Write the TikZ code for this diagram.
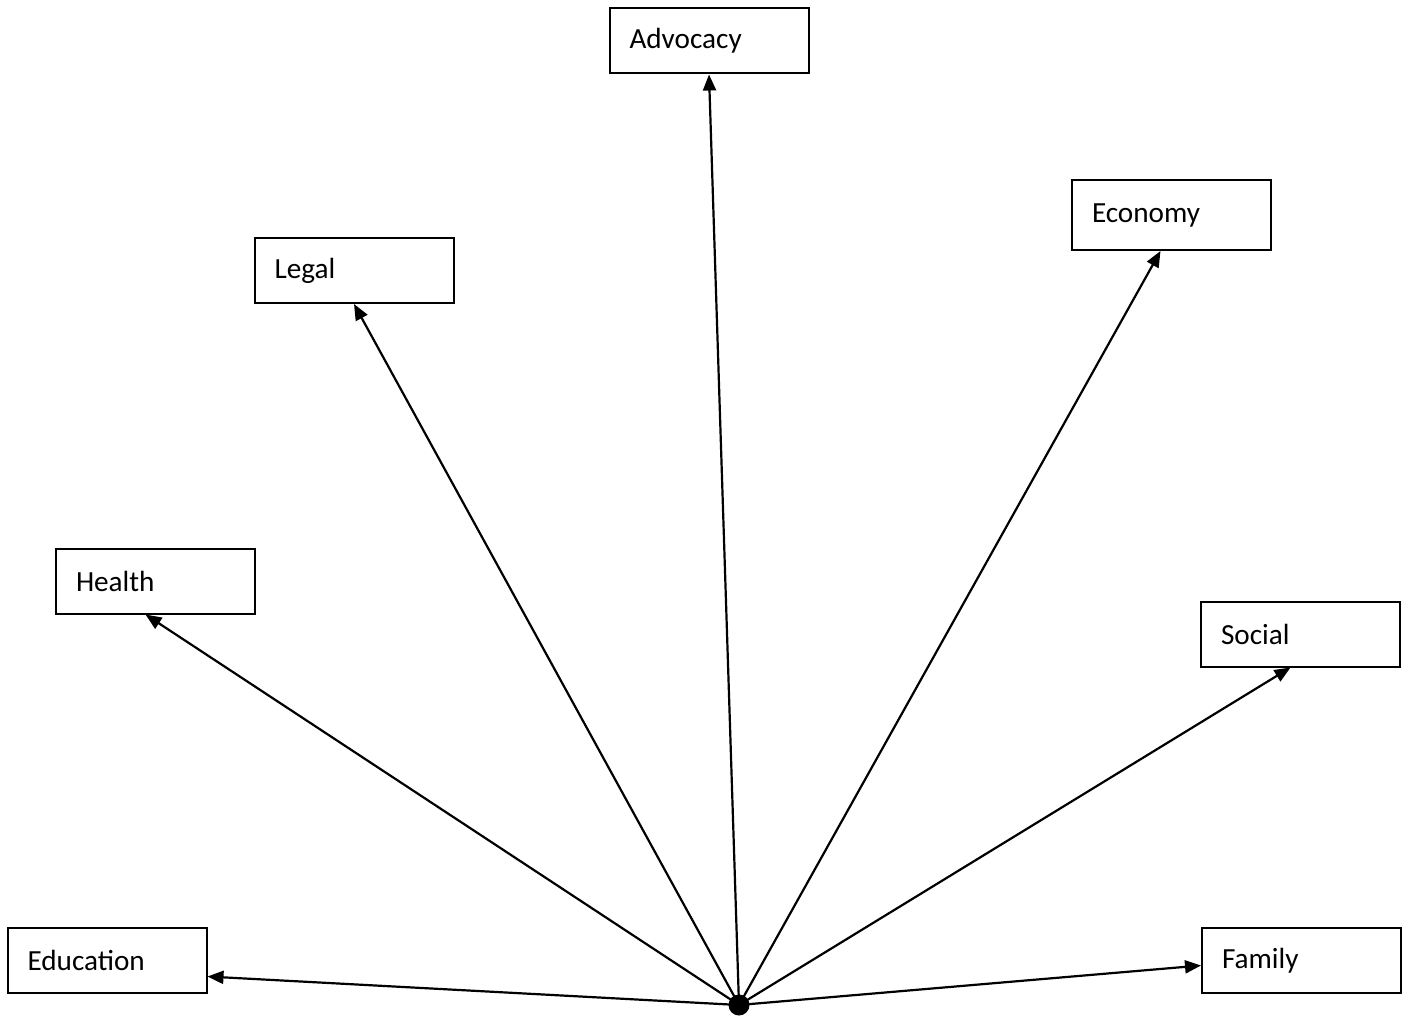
\documentclass[tikz,border=0pt]{standalone}
\usepackage{fontspec}
\setmainfont{Carlito}
\usetikzlibrary{arrows.meta}

\begin{document}
\begin{tikzpicture}[x=0.5pt,y=-0.5pt,
    area/.style={rectangle,draw,line width=1pt,minimum width=99.5pt,minimum height=32.5pt,
      text width=79.5pt,align=left,inner xsep=10pt,inner ysep=0pt,
      font=\fontsize{14.6}{16}\selectfont},
    link/.style={line width=1.1pt,-{Triangle[length=8pt,width=6.5pt]}},
    hub/.style={circle,fill=black,minimum size=10.5pt,inner sep=0pt}]

\useasboundingbox (0,0) rectangle (1414,1016);

\node[area] (adv) at (709,41) {Advocacy};
\node[area] (legal) at (354,270.5) {Legal};
\node[area,minimum height=35pt] (eco) at (1171.5,215) {Economy};
\node[area] (health) at (155.5,581) {Health};
\node[area] (social) at (1300.5,634) {Social};
\node[area] (edu) at (107,960.5) {Education};
\node[area] (fam) at (1301.5,960.5) {Family};

\node[hub] (c) at (739,1005) {};

\draw[link] (c.center) -- (adv.south);
\draw[link] (c.center) -- (legal.south);
\draw[link] (c.center) -- ([shift={(-11,0)}]eco.south);
\draw[link] (c.center) -- ([shift={(-10,0)}]health.south);
\draw[link] (c.center) -- ([shift={(-10,0)}]social.south);
\draw[link] (c.center) -- ([shift={(0,16)}]edu.east);
\draw[link] (c.center) -- ([shift={(0,5)}]fam.west);
\end{tikzpicture}
\end{document}
